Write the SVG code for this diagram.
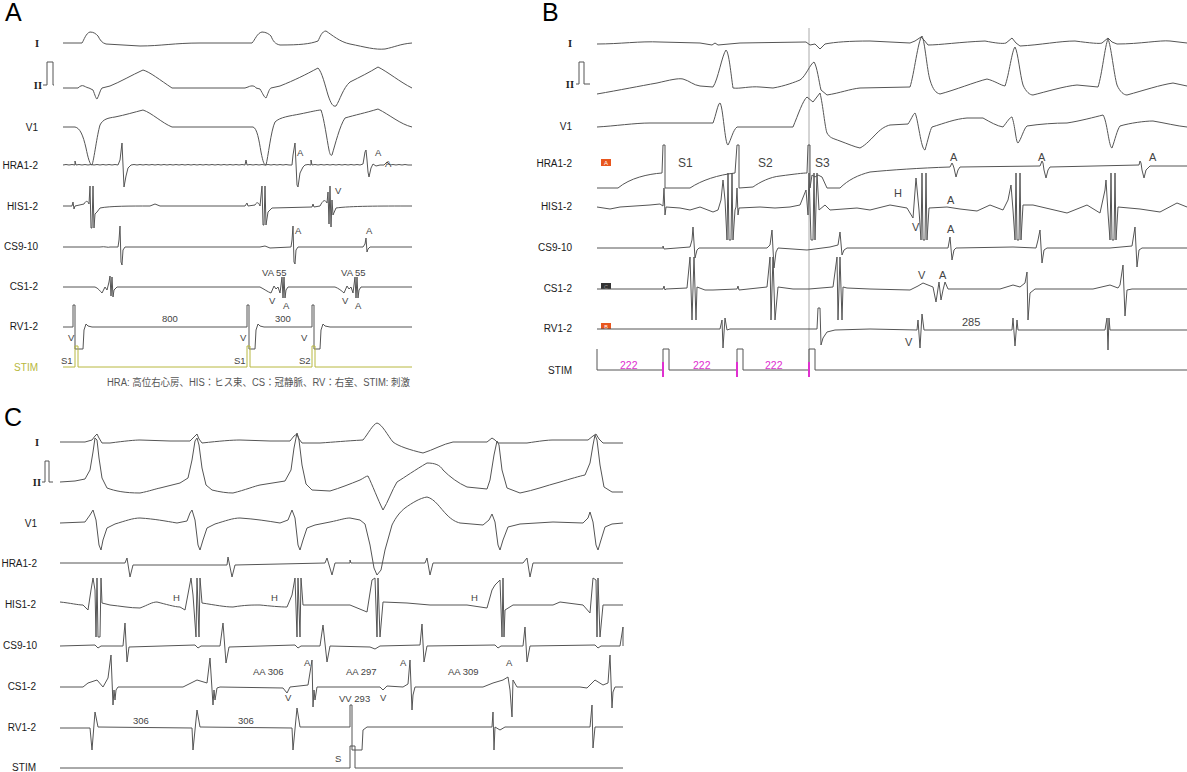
<svg xmlns="http://www.w3.org/2000/svg" width="1187" height="772" viewBox="0 0 1187 772">
<style>
.tr{fill:none;stroke:#555;stroke-width:1;stroke-linejoin:round}
.lb{font-family:"Liberation Sans",Arial,sans-serif;font-size:10px;fill:#1a1a1a;text-anchor:end}
.rn{font-family:"Liberation Serif","Times New Roman",serif;font-size:10.5px;font-weight:bold;fill:#222;text-anchor:end}
.an{font-family:"Liberation Sans",Arial,sans-serif;font-size:9.5px;fill:#444}
.anb{font-family:"Liberation Sans",Arial,sans-serif;font-size:11px;fill:#444}
.pl{font-family:"Liberation Sans",Arial,sans-serif;font-size:25px;fill:#000}
.ol{fill:none;stroke:#b8b840;stroke-width:1}
.mg{font-family:"Liberation Sans",Arial,sans-serif;font-size:10.5px;fill:#e030d0}
.tick{stroke:#e030d0;stroke-width:2}
</style>
<rect width="1187" height="772" fill="#fff"/>

<g id="panelA">
<text class="pl" x="5" y="21">A</text>
<text class="rn" x="39" y="47">I</text>
<text class="rn" x="42" y="89">II</text>
<path class="tr" d="M43,85 L47,85 L47,62 L53,62 L53,85 L54,85"/>
<text class="lb" x="38" y="131">V1</text>
<text class="lb" x="38" y="169">HRA1-2</text>
<text class="lb" x="38" y="210">HIS1-2</text>
<text class="lb" x="38" y="250">CS9-10</text>
<text class="lb" x="38" y="290">CS1-2</text>
<text class="lb" x="38" y="330">RV1-2</text>
<text class="lb" x="38" y="371" style="fill:#b8b840">STIM</text>

<path class="tr" d="M63,43 L82,43 C84,40 86,33 90,32 C94,32 96,34 98,36 C100,40 102,43 106,44 L140,46 C160,46 175,43 200,43 L252,43 C255,40 257,33 262,32 C266,32 269,34 271,36 C273,41 275,44 280,45 C300,45 310,44 318,41 C320,37 322,31 326,31 C332,35 340,42 350,44 C365,47 375,50 385,49 C395,47 400,44 412,43"/>
<path class="tr" d="M63,88 L78,88 C80,86 82,85 84,86 C86,87 88,88 89,88 L93,90 C95,95 96,99 97,99 C99,96 100,90 102,88 L110,86 C120,82 132,75 143,70 C150,72 160,80 172,88 L245,88 L248,87 C252,85 255,86 256,88 L260,89 C263,94 264,97 266,98 C268,94 269,89 271,88 L280,86 C295,80 305,75 318,68 C322,72 325,85 328,95 C331,104 333,107 336,106 C340,100 343,88 350,82 C360,77 370,72 378,67 C388,72 400,82 412,88"/>
<path class="tr" d="M63,127 L75,127 C80,128 83,135 86,148 C88,158 90,165 92,165 C94,160 97,135 100,125 C103,119 108,118 115,117 C125,115 135,112 143,110 C152,113 162,123 172,127 L253,127 C257,128 259,140 261,152 C263,162 264,165 266,165 C268,158 271,130 275,122 C280,117 290,116 300,114 C310,112 318,110 321,110 C324,118 327,140 329,150 C330,155 331,156 332,155 C335,145 340,125 345,118 C355,115 365,113 378,109 C390,115 400,124 412,127"/>
<path class="tr" d="M63,165 l3,-.5 l3,.5 l3,-.5 l3,.5 L75,161 L76,165 l3,-.5 l3,.5 l3,-.5 l3,.5 l3,-.5 l3,.5 l3,-.5 l3,.5 l3,-.5 l3,.5 l3,-.5 l3,.5 l3,-.5 l3,.5 L120,160 L122,143 L124,187 L126,176 L128,168 L131,165 l3,-.5 l3,.5 l3,-.5 l3,.5 l3,-.5 l3,.5 l3,-.5 l3,.5 l3,-.5 l3,.5 l3,-.5 l3,.5 l3,-.5 l3,.5 l3,-.5 l3,.5 l3,-.5 l3,.5 l3,-.5 l3,.5 l3,-.5 l3,.5 l3,-.5 l3,.5 l3,-.5 l3,.5 l3,-.5 l3,.5 l3,-.5 l3,.5 l3,-.5 l3,.5 l3,-.5 l3,.5 l3,-.5 l3,.5 l3,-.5 l3,.5 L246,160 L247,165 l3,-.5 l3,.5 l3,-.5 l3,.5 l3,-.5 l3,.5 l3,-.5 l3,.5 l3,-.5 l3,.5 l3,-.5 l3,.5 l3,-.5 l3,.5 L292,165 L293,155 L295,143 L297,185 L298,187 L300,173 L303,167 L305,165 l3,-.5 l3,.5 L311,160 L312,165 l3,-.5 l3,.5 l3,-.5 l3,.5 l3,-.5 l3,.5 l3,-.5 l3,.5 l3,-.5 l3,.5 l3,-.5 l3,.5 l3,-.5 l3,.5 l3,-.5 l3,.5 L363,164 L365,152 L366,150 L367,160 L368,172 L369,177 L371,168 L373,164 L376,166 L380,165 L384,165 L387,162 L390,165 l3,-.5 l3,.5 l3,-.5 l3,.5 l3,-.5 l3,.5 L412,165"/>
<path class="tr" d="M63,206 L72,206 L73,202 L74,209 L75,206 L84,204 C86,200 88,201 89,204 L90,186 L91,228 L92,228 L93,186 L94,228 L95,214 L97,212 L100,208 C110,206 130,206 150,206 L155,204 L160,206 L245,206 L247,203 L248,206 L255,205 C257,201 259,203 260,206 L262,186 L263,225 L264,225 L265,186 L266,225 L268,212 L272,208 L312,207 L313,204 L314,207 L320,206 C323,200 325,199 327,203 L328,192 L329,224 L330,186 L331,227 L332,200 L333,215 L336,208 C350,206 380,206 412,206"/>
<path class="tr" d="M63,247 L100,247 C105,246 108,248 110,247 L118,247 L119,240 L120,226 L121,262 L122,265 L123,250 L125,247 L260,247 L265,246 L270,248 L291,247 L292,240 L293,226 L294,262 L295,264 L296,250 L298,247 L363,247 L365,244 L366,238 L367,252 L368,249 L370,247 L412,247"/>
<path class="tr" d="M63,287 L95,287 C98,288 100,291 102,293 L105,287 L107,290 L109,282 L110,276 L111,296 L112,277 L113,297 L114,290 L117,287 L260,287 C264,289 268,292 271,293 L274,286 L276,289 L278,287 L280,293 L282,277 L283,298 L284,277 L285,298 L286,290 L288,287 L335,287 C338,288 342,291 344,293 L347,286 L349,289 L351,287 L353,293 L355,277 L356,298 L357,277 L358,298 L359,290 L361,287 L412,287"/>
<path class="tr" d="M63,327 L73,327 L73,305 L75,305 L75,349 L83,349 L84,330 L86,324 L88,326 L92,327 L247,327 L247,305 L249,305 L249,349 L255,349 L256,330 L258,324 L260,326 L264,327 L312,327 L312,305 L314,305 L314,349 L320,349 L321,330 L323,324 L325,326 L330,327 L412,327"/>
<path class="ol" d="M63,367 L75,367 L75,346 L78,346 L78,367 L247,367 L247,346 L250,346 L250,367 L312,367 L312,346 L315,346 L315,367 L412,367"/>

<text class="an" x="297" y="156">A</text>
<text class="an" x="375" y="156">A</text>
<text class="an" x="385" y="167">A</text>
<text class="an" x="335" y="194">V</text>
<text class="an" x="295" y="234">A</text>
<text class="an" x="366" y="234">A</text>
<text class="an" x="262" y="276">VA 55</text>
<text class="an" x="341" y="276">VA 55</text>
<text class="an" x="269" y="304">V</text>
<text class="an" x="283" y="309">A</text>
<text class="an" x="342" y="304">V</text>
<text class="an" x="355" y="309">A</text>
<text class="an" x="162" y="322">800</text>
<text class="an" x="275" y="322">300</text>
<text class="an" x="68" y="341">V</text>
<text class="an" x="240" y="341">V</text>
<text class="an" x="301" y="341">V</text>
<text class="an" x="61" y="364">S1</text>
<text class="an" x="234" y="364">S1</text>
<text class="an" x="299" y="364">S2</text>
<text x="107" y="386" textLength="303" lengthAdjust="spacingAndGlyphs" style="font-family:'Liberation Sans','Noto Sans CJK JP',sans-serif;font-size:10px;fill:#555">HRA: 高位右心房、HIS：ヒス束、CS：冠静脈、RV：右室、STIM: 刺激</text>
</g>

<g id="panelB">
<text class="pl" x="542" y="21">B</text>
<line x1="809" y1="28" x2="809" y2="372" stroke="#aaa" stroke-width="1"/>
<text class="rn" x="572" y="47">I</text>
<text class="rn" x="574" y="88">II</text>
<path class="tr" d="M576,84 L579,84 L579,62 L584,62 L584,84 L590,84"/>
<text class="lb" x="572" y="130">V1</text>
<text class="lb" x="572" y="167">HRA1-2</text>
<text class="lb" x="572" y="210">HIS1-2</text>
<text class="lb" x="572" y="251">CS9-10</text>
<text class="lb" x="572" y="292">CS1-2</text>
<text class="lb" x="572" y="332">RV1-2</text>
<text class="lb" x="572" y="374">STIM</text>

<rect x="601" y="159" width="10" height="7" fill="#e8561e"/>
<text x="606" y="165" text-anchor="middle" style="font-family:'Liberation Sans',sans-serif;font-size:6px;fill:#fff">A</text>
<rect x="601" y="283" width="10" height="6" fill="#333"/>
<text x="606" y="288.5" text-anchor="middle" style="font-family:'Liberation Sans',sans-serif;font-size:5.5px;fill:#999">C</text>
<rect x="601" y="323" width="10" height="6" fill="#e8561e"/>
<text x="606" y="328.5" text-anchor="middle" style="font-family:'Liberation Sans',sans-serif;font-size:5.5px;fill:#fff">B</text>

<path class="tr" d="M597,44 C620,44 640,41 660,42 L700,43 L712,45 L715,43 L718,45 L740,43 L806,42 L810,45 L815,44 L820,49 L825,44 C835,42 850,41 870,41 L910,43 L915,41 L921,37 L924,40 L928,45 C940,45 960,42 985,41 C995,43 1003,44 1006,43 L1012,38 L1016,43 L1020,46 C1040,45 1060,41 1075,41 C1090,43 1100,44 1102,43 L1108,38 L1112,42 L1117,44 C1140,44 1160,40 1170,41 L1187,43"/>
<path class="tr" d="M597,94 C620,90 640,86 657,83 C670,80 678,78 683,79 C690,81 693,85 700,86 L713,87 C718,80 722,55 726,50 C729,52 731,75 733,88 C740,89 750,86 760,87 L773,88 C785,86 795,82 800,80 C806,76 810,64 814,62 C817,66 819,82 821,90 L827,95 C840,93 850,89 860,88 L910,87 C914,75 918,40 922,36 C925,42 927,70 930,80 C933,90 936,93 940,94 C955,90 975,82 987,79 C995,81 1000,85 1005,86 C1009,75 1012,50 1015,47 C1018,52 1020,75 1023,85 C1026,92 1030,95 1033,95 C1045,92 1065,86 1077,85 L1098,87 C1102,75 1105,45 1108,39 C1111,45 1114,75 1117,85 C1120,92 1124,95 1127,95 C1145,90 1160,85 1173,83 L1187,86"/>
<path class="tr" d="M597,127 C615,126 635,123 650,123 L713,123 C716,115 718,103 720,103 C723,106 725,145 728,145 C731,140 733,130 737,127 L793,127 C798,115 803,100 807,97 L813,102 L820,93 C823,105 825,128 827,133 C830,138 832,138 840,141 C848,144 855,147 860,148 C866,145 872,138 877,133 C882,128 886,126 890,125 L908,124 C911,120 913,114 915,113 C918,118 921,150 925,150 C928,140 930,130 932,127 C945,123 955,119 967,118 L983,118 C990,122 997,126 1003,127 C1007,122 1010,117 1012,117 C1015,125 1016,143 1018,143 C1021,140 1024,128 1027,126 C1040,124 1055,123 1067,123 C1080,121 1095,117 1103,115 C1107,120 1109,148 1112,148 C1115,140 1117,130 1120,126 C1130,123 1145,121 1153,121 C1165,123 1177,126 1187,127"/>
<path class="tr" d="M597,188 L618,188 C630,178 648,174 662,173 L663,145 L665,145 L665,188 L690,188 C702,180 718,175 735,173 L737,145 L739,145 L739,188 L753,187 C760,182 770,177 780,176 C795,174 803,173 807,173 L808,145 L810,145 L810,188 L812,175 L815,177 L818,175 L822,177 L827,188 L840,188 C848,180 858,175 870,172 C890,170 920,168 950,167 L952,163 L953,165 L954,168 L956,177 L958,170 L960,167 L1040,166 L1042,161 L1043,163 L1044,170 L1046,178 L1048,170 L1050,167 L1139,165 L1140,161 L1141,163 L1142,170 L1144,178 L1146,170 L1150,166 L1187,166"/>
<path class="tr" d="M597,207 L610,209 L620,207 L650,205 L660,204 L663,206 L664,188 L665,215 L666,207 L680,208 L690,210 L700,207 L713,212 L718,210 L721,200 L723,180 L725,200 L727,240 L728,173 L729,240 L731,240 L732,173 L733,240 L735,210 L736,207 L737,188 L738,215 L739,208 L760,207 L775,208 L790,207 L800,205 L804,195 L806,190 L808,215 L809,173 L811,240 L813,240 L814,173 L815,240 L817,173 L819,210 L825,205 L830,210 L857,208 L870,210 L890,205 L907,208 L913,218 L916,178 L919,210 L921,240 L922,173 L923,240 L925,240 L926,173 L927,240 L929,208 L947,207 L960,209 L977,211 L990,205 L1003,210 L1008,200 L1011,185 L1013,210 L1015,240 L1016,173 L1017,240 L1019,240 L1020,173 L1021,240 L1023,205 L1033,205 L1050,209 L1067,213 L1087,205 L1100,213 L1105,190 L1106,180 L1108,213 L1110,240 L1111,173 L1112,240 L1114,240 L1115,173 L1116,240 L1118,207 L1140,209 L1160,212 L1177,203 L1187,207"/>
<path class="tr" d="M597,248 L663,248 L663,246 L664,249 L690,247 L692,240 L693,227 L695,258 L697,250 L699,248 L737,248 L767,248 L770,245 L772,230 L774,268 L776,252 L778,248 L807,250 L830,247 L838,245 L840,232 L842,255 L844,250 L847,248 L927,248 L948,248 L950,237 L952,260 L954,250 L956,248 L1013,247 L1036,248 L1038,240 L1040,230 L1042,263 L1044,250 L1047,248 L1110,248 L1132,246 L1135,227 L1137,267 L1139,250 L1142,248 L1187,248"/>
<path class="tr" d="M597,289 L663,289 L664,286 L665,290 L666,289 L687,288 L690,257 L692,320 L694,257 L696,320 L697,287 L705,290 L713,290 L737,289 L738,286 L739,290 L767,287 L770,257 L771,320 L773,257 L775,320 L778,287 L793,289 L809,289 L833,287 L837,257 L838,320 L840,257 L842,320 L843,287 L847,288 L870,289 L910,290 L918,286 L923,283 L933,287 L936,302 L939,282 L941,300 L943,290 L945,282 L948,289 L1000,289 L1013,285 L1020,287 L1025,283 L1027,272 L1028,320 L1030,293 L1035,289 L1093,289 L1110,285 L1118,288 L1120,285 L1123,265 L1125,316 L1127,290 L1132,289 L1187,289"/>
<path class="tr" d="M597,329 L720,329 L722,320 L723,348 L725,318 L727,330 L730,329 L809,329 L817,329 L818,308 L820,308 L821,345 L823,338 L827,332 L835,330 L870,329 L917,330 L918,320 L920,348 L922,314 L924,330 L1012,330 L1013,318 L1015,346 L1017,320 L1018,330 L1105,330 L1107,318 L1108,350 L1109,318 L1110,330 L1187,330"/>
<path class="tr" d="M597,349 L597,370 L663,370 L663,349 L669,349 L669,370 L737,370 L737,349 L743,349 L743,370 L809,370 L809,349 L815,349 L815,370 L1187,370"/>
<line class="tick" x1="663" y1="362" x2="663" y2="377"/>
<line class="tick" x1="737" y1="362" x2="737" y2="377"/>
<line class="tick" x1="809" y1="362" x2="809" y2="377"/>
<text class="mg" x="620" y="369">222</text>
<text class="mg" x="693" y="369">222</text>
<text class="mg" x="765" y="369">222</text>

<text class="anb" x="678" y="167" style="font-size:12px">S1</text>
<text class="anb" x="758" y="167" style="font-size:12px">S2</text>
<text class="anb" x="815" y="167" style="font-size:12px">S3</text>
<text class="anb" x="950" y="161">A</text>
<text class="anb" x="1038" y="161">A</text>
<text class="anb" x="1149" y="161">A</text>
<text class="anb" x="894" y="197">H</text>
<text class="anb" x="912" y="231">V</text>
<text class="anb" x="947" y="204">A</text>
<text class="anb" x="947" y="233">A</text>
<text class="anb" x="918" y="279">V</text>
<text class="anb" x="939" y="279">A</text>
<text class="anb" x="905" y="346">V</text>
<text class="anb" x="962" y="326">285</text>
</g>

<g id="panelC">
<text class="pl" x="4" y="426">C</text>
<text class="rn" x="39" y="446">I</text>
<text class="rn" x="41" y="486">II</text>
<path class="tr" d="M42,482 L45,482 L45,461 L49,461 L49,482 L53,482"/>
<text class="lb" x="37" y="527">V1</text>
<text class="lb" x="37" y="567">HRA1-2</text>
<text class="lb" x="36" y="608">HIS1-2</text>
<text class="lb" x="37" y="649">CS9-10</text>
<text class="lb" x="36" y="690">CS1-2</text>
<text class="lb" x="36" y="731">RV1-2</text>
<text class="lb" x="36" y="771">STIM</text>

<path class="tr" d="M60,442 L85,442 L92,440 L95,436 L97,434 L99,438 L102,443 L110,443 C125,441 135,440 140,440 L170,441 L190,441 L195,436 L197,434 L199,439 L202,443 C220,441 232,440 240,440 L270,441 L290,441 L294,436 L297,434 L299,439 L302,443 L320,443 C335,442 345,441 363,440 C368,434 373,424 377,423 C382,424 388,436 393,442 C398,446 410,450 423,453 C433,450 443,444 453,442 L487,442 L492,438 L495,440 L498,443 L527,443 C540,441 548,440 553,440 L588,440 L593,436 L596,434 L599,439 L603,443 L623,443"/>
<path class="tr" d="M60,482 L75,481 L85,479 L90,470 L93,452 L95,438 L97,440 L99,458 L102,478 L107,488 C115,491 125,493 140,493 C150,491 155,489 160,488 L180,483 L188,478 L192,460 L195,441 L197,438 L199,445 L202,468 L206,485 L212,490 C220,492 227,493 233,493 C245,490 255,486 260,485 L285,481 L291,470 L294,448 L297,433 L299,440 L302,465 L306,484 L312,490 L330,491 C340,488 350,484 360,480 C364,478 366,476 368,476 C372,484 378,500 383,510 C388,502 392,490 397,482 C405,477 415,470 427,463 C435,463 440,465 443,470 C450,477 458,483 467,487 L487,489 L490,480 L494,455 L497,441 L499,445 L502,470 L507,488 L520,493 C535,490 545,486 560,482 C570,479 580,476 585,475 L590,463 L593,445 L595,435 L597,440 L600,465 L604,487 L612,492 L623,492"/>
<path class="tr" d="M60,523 L85,522 L90,515 L93,510 L96,520 L99,545 L101,550 L103,540 L107,528 L115,524 C125,521 133,518 140,518 C155,519 165,521 177,523 L187,521 L190,513 L192,510 L195,520 L198,545 L200,550 L203,540 L207,528 L215,524 C225,521 233,518 240,518 C255,519 268,521 280,523 L288,520 L292,510 L295,518 L298,545 L300,550 L303,540 L307,528 L315,525 L330,522 C340,520 345,518 350,518 L360,520 L365,524 L370,545 L374,568 L377,575 L381,570 L385,550 L392,525 C396,517 400,512 405,508 C412,503 420,498 427,497 C435,499 440,508 447,515 C452,520 456,522 460,523 L483,525 L489,520 L492,514 L495,522 L498,545 L500,550 L503,540 L508,527 L520,524 L553,522 L583,523 L588,518 L590,512 L593,522 L596,545 L598,550 L601,540 L605,527 L612,524 L623,523"/>
<path class="tr" d="M60,563 L125,563 L127,558 L130,577 L133,565 L227,565 L228,557 L232,577 L235,565 L325,563 L327,558 L332,575 L335,563 L350,563 L350,560 L351,563 L425,563 L427,558 L430,575 L433,563 L523,563 L527,558 L530,577 L533,563 L623,563"/>
<path class="tr" d="M60,602 C70,603 78,605 83,605 L88,610 L91,590 L93,578 L95,590 L96,637 L97,578 L98,637 L100,637 L101,578 L102,603 L110,605 C120,606 130,608 140,608 C148,605 152,602 157,602 C165,604 175,607 180,607 L185,610 L191,578 L193,595 L196,637 L197,578 L199,637 L200,578 L202,603 C215,605 225,607 233,607 C245,605 252,605 260,605 C270,606 280,607 287,607 L292,595 L295,578 L297,637 L298,578 L300,637 L301,578 L303,605 L320,605 L350,605 L367,612 L372,580 L375,578 L377,637 L378,578 L380,637 L383,602 L407,603 L430,605 L467,605 L487,608 L492,590 L495,585 L500,580 L502,637 L503,578 L504,637 L505,610 L513,605 L553,605 L560,602 L583,605 L590,613 L593,578 L596,580 L597,637 L598,578 L600,637 L603,605 L623,605"/>
<path class="tr" d="M60,646 L95,645 L98,648 L101,646 L123,646 L125,623 L127,662 L129,647 L195,645 L198,648 L201,646 L220,646 L223,623 L226,663 L229,647 L295,645 L298,648 L301,646 L320,646 L323,625 L327,662 L330,646 L370,647 L375,649 L380,646 L420,645 L422,624 L424,662 L427,646 L495,645 L498,648 L501,646 L523,646 L525,627 L527,662 L530,646 L595,645 L598,648 L601,646 L620,646 L623,627 L623,646"/>
<path class="tr" d="M60,687 L83,687 L88,683 L97,680 L103,687 L108,678 L111,655 L113,705 L114,690 L115,700 L116,690 L118,687 L183,687 L197,680 L207,683 L210,658 L213,705 L214,690 L215,700 L217,688 L220,687 L283,688 L287,693 L290,687 L308,685 L312,660 L313,707 L314,690 L315,700 L317,687 L330,687 L380,687 L383,690 L387,686 L403,687 L408,684 L410,660 L412,710 L413,695 L415,687 L483,687 L493,683 L503,680 L508,677 L510,690 L512,717 L513,680 L517,687 L580,687 L587,688 L595,680 L603,685 L608,683 L610,655 L612,708 L613,692 L615,687 L623,687"/>
<path class="tr" d="M60,728 L90,728 L92,750 L95,712 L98,727 L192,728 L193,750 L197,710 L200,727 L292,728 L293,750 L297,708 L300,727 L330,727 L350,727 L350,705 L352,705 L352,750 L362,750 L363,730 L367,727 L492,727 L493,712 L494,750 L495,727 L500,730 L505,727 L590,727 L592,705 L593,748 L595,727 L623,727"/>
<path class="tr" d="M60,768 L350,768 L350,746 L355,746 L355,768 L623,768"/>

<text class="an" x="173" y="601">H</text>
<text class="an" x="271" y="601">H</text>
<text class="an" x="471" y="601">H</text>
<text class="an" x="253" y="675">AA 306</text>
<text class="an" x="346" y="675">AA 297</text>
<text class="an" x="448" y="675">AA 309</text>
<text class="an" x="304" y="666">A</text>
<text class="an" x="400" y="666">A</text>
<text class="an" x="506" y="666">A</text>
<text class="an" x="285" y="701">V</text>
<text class="an" x="380" y="701">V</text>
<text class="an" x="339" y="702">VV 293</text>
<text class="an" x="133" y="724">306</text>
<text class="an" x="238" y="724">306</text>
<text class="an" x="335" y="762">S</text>
</g>
</svg>
